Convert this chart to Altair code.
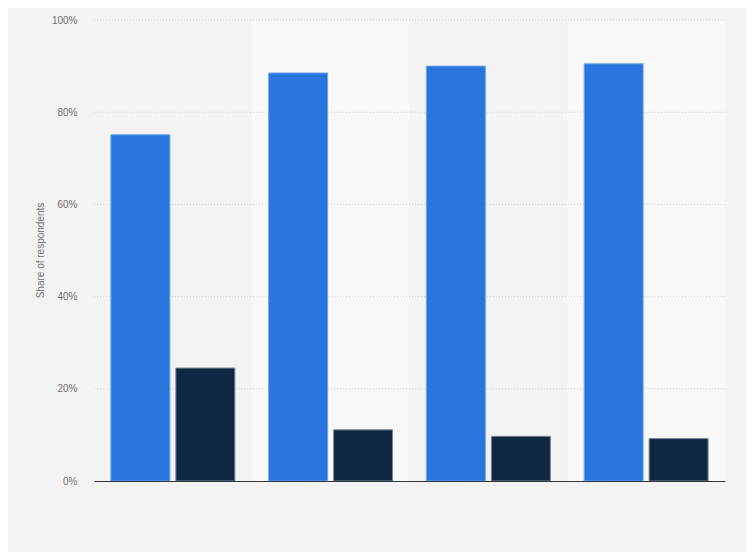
import altair as alt
import pandas as pd

groups = ["Group 1", "Group 2", "Group 3", "Group 4"]
series = ["Series 1", "Series 2"]
series1_values = [75.1, 88.5, 90.0, 90.5]
series2_values = [24.5, 11.1, 9.7, 9.2]
shaded_groups = ["Group 2", "Group 4"]
y_ticks = [0, 20, 40, 60, 80, 100]

rows = []
for g, a, b in zip(groups, series1_values, series2_values):
    rows.append({"group": g, "series": series[0], "value": a})
    rows.append({"group": g, "series": series[1], "value": b})
df = pd.DataFrame(rows)
bands = pd.DataFrame({"group": shaded_groups, "lo": [0] * len(shaded_groups), "hi": [100] * len(shaded_groups)})
grid = pd.DataFrame({"tick": [t for t in y_ticks if t > 0]})

xscale = alt.Scale(domain=groups, paddingInner=0, paddingOuter=0)
yscale = alt.Scale(domain=[0, 100], nice=False)
xaxis = alt.Axis(labels=False, ticks=False, title=None, domain=True,
                 domainColor="#333333", domainWidth=1, grid=False)
yaxis = alt.Axis(
    values=y_ticks,
    labelExpr="datum.value + '%'",
    title="Share of respondents",
    titleFontSize=10,
    titleFontWeight="normal",
    titleColor="#707070",
    titleFont="Liberation Sans",
    titleX=-49,
    titleY=230,
    labelFont="Liberation Sans",
    labelFontSize=10,
    labelColor="#707070",
    labelPadding=17,
    ticks=False,
    domain=False,
    grid=False,
)

band_layer = alt.Chart(bands).mark_rect(color="#f8f8f8").encode(
    x=alt.X("group:N", scale=xscale, axis=xaxis),
    y=alt.Y("lo:Q", scale=yscale, axis=yaxis),
    y2="hi:Q",
)

grid_layer = alt.Chart(grid).mark_rule(color="#d2d2d2", strokeDash=[1, 2], strokeWidth=1).encode(
    y=alt.Y("tick:Q", scale=yscale, axis=yaxis),
)

bars = alt.Chart(df).mark_bar(strokeWidth=1).encode(
    x=alt.X("group:N", scale=xscale, axis=xaxis),
    xOffset=alt.XOffset("series:N", sort=series,
                        scale=alt.Scale(paddingInner=0.092, paddingOuter=0.26)),
    y=alt.Y("value:Q", scale=yscale, axis=yaxis),
    color=alt.Color("series:N", sort=series,
                    scale=alt.Scale(domain=series, range=["#2876dd", "#0f2740"]),
                    legend=None),
    stroke=alt.Stroke("series:N", sort=series,
                      scale=alt.Scale(domain=series, range=["#6fa3ec", "#7d8894"]),
                      legend=None),
)

chart = alt.layer(band_layer, grid_layer, bars).properties(
    width=631,
    height=461,
    background="#f3f3f3",
    autosize=alt.AutoSizeParams(type="none"),
    padding={"left": 86, "top": 12, "right": 21, "bottom": 71},
).configure_view(stroke=None)

chart.save("out.html", embed_options={"renderer": "svg", "actions": False})
